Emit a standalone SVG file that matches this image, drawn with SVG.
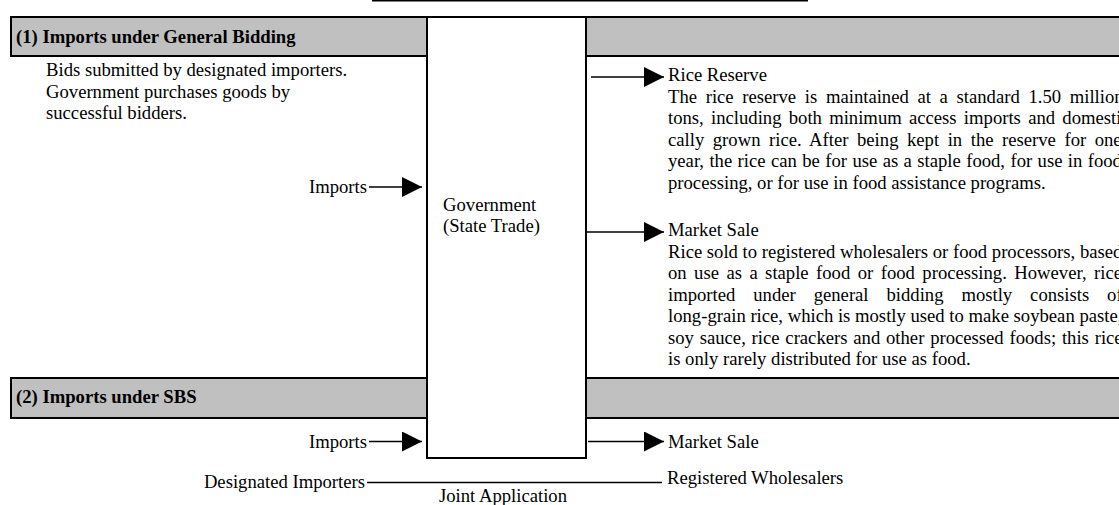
<svg xmlns="http://www.w3.org/2000/svg" width="1119" height="505" viewBox="0 0 1119 505">
  <style>
    text { font-family: "Liberation Serif", "Times New Roman", serif; font-size: 18.67px; fill: #000; }
    .head { font-weight: bold; }
    .band { fill: #c0c0c0; stroke: #000; stroke-width: 2; }
    .box { fill: #fff; stroke: #000; stroke-width: 2; }
    .wire { stroke: #000; stroke-width: 1.5; fill: none; }
    .end { text-anchor: end; }
  </style>
  <defs>
    <marker id="tip" markerUnits="userSpaceOnUse" markerWidth="21" markerHeight="21" refX="20" refY="10" orient="auto" viewBox="0 0 21 21">
      <path d="M0,0 L20,10 L0,20 Z" fill="#000"/>
    </marker>
  </defs>
  <rect width="1119" height="505" fill="#fff"/>

  <!-- underline of the heading above the chart -->
  <line x1="372" y1="0.75" x2="808" y2="0.75" stroke="#000" stroke-width="1.5"/>

  <!-- section bands -->
  <g id="band-general">
    <rect class="band" x="11" y="17" width="1120" height="39"/>
    <text class="head" x="16" y="42.5">(1) Imports under General Bidding</text>
  </g>
  <g id="band-sbs">
    <rect class="band" x="11" y="378" width="1120" height="40"/>
    <text class="head" x="16" y="403">(2) Imports under SBS</text>
  </g>

  <!-- central node -->
  <g id="government">
    <rect class="box" x="427" y="17" width="159" height="441"/>
    <text x="443" y="211">Government</text>
    <text x="443" y="232">(State Trade)</text>
  </g>

  <g id="bidding-note">
    <text x="46" y="76">Bids submitted by designated importers.</text>
    <text x="46" y="97.5">Government purchases goods by</text>
    <text x="46" y="119">successful bidders.</text>
  </g>

  <g id="imports-general">
    <text class="end" x="367" y="193">Imports</text>
  </g>
  <g id="imports-sbs">
    <text class="end" x="367" y="447.5">Imports</text>
  </g>

  <!-- justified paragraphs: word spacing set per line -->
  <g id="rice-reserve">
    <text x="668" y="81">Rice Reserve</text>
    <text x="668" y="102.5" word-spacing="4">The rice reserve is maintained at a standard 1.50 million</text>
    <text x="668" y="124" word-spacing="2.59">tons, including both minimum access imports and domesti-</text>
    <text x="668" y="145.5" word-spacing="3.87">cally grown rice. After being kept in the reserve for one</text>
    <text x="668" y="167" word-spacing="0.73">year, the rice can be for use as a staple food, for use in food</text>
    <text x="668" y="188.5">processing, or for use in food assistance programs.</text>
  </g>

  <g id="market-sale-general">
    <text x="668" y="236">Market Sale</text>
    <text x="668" y="257.5">Rice sold to registered wholesalers or food processors, based</text>
    <text x="668" y="279" word-spacing="2.78">on use as a staple food or food processing. However, rice</text>
    <text x="668" y="300.5" word-spacing="13.25">imported under general bidding mostly consists of</text>
    <text x="668" y="322">long-grain rice, which is mostly used to make soybean paste,</text>
    <text x="668" y="343.5" word-spacing="1.13">soy sauce, rice crackers and other processed foods; this rice</text>
    <text x="668" y="365">is only rarely distributed for use as food.</text>
  </g>

  <g id="market-sale-sbs">
    <text x="668" y="447.5">Market Sale</text>
  </g>

  <g id="designated-importers">
    <text class="end" x="365" y="488">Designated Importers</text>
  </g>
  <g id="registered-wholesalers">
    <text x="667" y="484">Registered Wholesalers</text>
  </g>
  <g id="joint-application">
    <text x="439" y="502">Joint Application</text>
  </g>

  <!-- connectors -->
  <g id="connectors">
    <line class="wire" x1="369" y1="187" x2="422" y2="187" marker-end="url(#tip)"/>
    <line class="wire" x1="369" y1="441.5" x2="422" y2="441.5" marker-end="url(#tip)"/>
    <line class="wire" x1="591" y1="77" x2="664" y2="77" marker-end="url(#tip)"/>
    <line class="wire" x1="587" y1="232" x2="664" y2="232" marker-end="url(#tip)"/>
    <line class="wire" x1="588" y1="441.5" x2="664" y2="441.5" marker-end="url(#tip)"/>
    <line class="wire" x1="367" y1="482.5" x2="662" y2="482.5"/>
  </g>
</svg>
